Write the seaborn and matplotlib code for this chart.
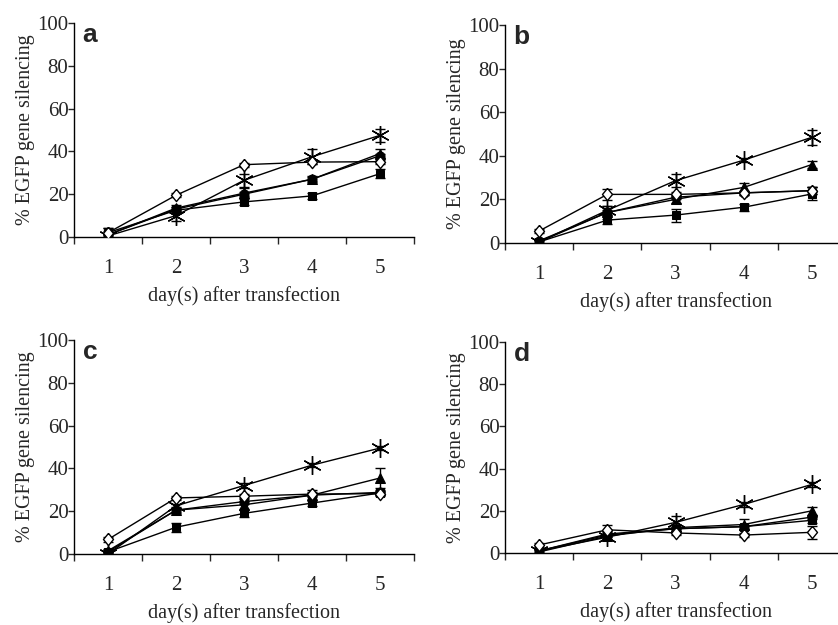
import matplotlib
matplotlib.use("Agg")
import matplotlib.pyplot as plt
import seaborn as sns
import numpy as np

days = [1, 2, 3, 4, 5]
series = ["circle", "square", "triangle", "asterisk", "diamond"]

# panel a
a_vals = {
    "circle":   [1, 13, 20, 27, 38],
    "square":   [2, 12.5, 16.4, 19.2, 29.6],
    "triangle": [1, 13.5, 20.5, 27, 39],
    "asterisk": [0.5, 10, 26.5, 37.5, 47.5],
    "diamond":  [2, 19.5, 33.8, 35, 35.2],
}
a_err = {
    "circle":   [1, 1, 1, 1, 1],
    "square":   [2, 1.5, 1.5, 1.5, 2],
    "triangle": [3, 1.5, 2.5, 1.5, 2],
    "asterisk": [1, 2.5, 3, 3.5, 3],
    "diamond":  [1, 1, 1, 1, 1],
}
# panel b
b_vals = {
    "circle":   [1, 14, 21, 23, 24],
    "square":   [0.5, 10.5, 12.8, 16.4, 22.5],
    "triangle": [0.5, 14, 20, 25.5, 36],
    "asterisk": [0.5, 15, 28.6, 38, 48.5],
    "diamond":  [5.5, 22.3, 22.3, 23, 24],
}
b_err = {
    "circle":   [1, 1, 1, 1, 1.5],
    "square":   [1, 2, 3, 1.5, 3],
    "triangle": [1, 3, 1.5, 2, 1.5],
    "asterisk": [1, 2, 3, 1, 3.5],
    "diamond":  [1, 2.5, 1, 1, 1.5],
}
# panel c
c_vals = {
    "circle":   [1, 20.5, 24.5, 27.5, 28.8],
    "square":   [1, 12.5, 19, 23.8, 28.5],
    "triangle": [1.5, 20.5, 23, 27.5, 35.5],
    "asterisk": [0, 22.5, 32, 41.5, 49.5],
    "diamond":  [6.8, 26.2, 27, 28, 28.2],
}
c_err = {
    "circle":   [1, 1, 1, 1, 1],
    "square":   [1, 2, 1.5, 1.5, 1],
    "triangle": [1, 1.5, 2, 2.5, 4.5],
    "asterisk": [1, 1, 1, 1, 1],
    "diamond":  [1, 1, 1, 1, 1],
}
# panel d
d_vals = {
    "circle":   [1, 8.5, 11.5, 12.5, 17],
    "square":   [1, 9, 11.5, 12.5, 15.5],
    "triangle": [0.5, 8, 12, 13.5, 20],
    "asterisk": [1, 7.5, 14.5, 23, 32.5],
    "diamond":  [3.8, 11, 9.5, 8.5, 9.8],
}
d_err = {
    "circle":   [1, 1, 1, 1, 1],
    "square":   [1, 1.5, 1, 1, 1.5],
    "triangle": [1, 2, 1.5, 2.5, 2],
    "asterisk": [1, 1, 3, 1, 1],
    "diamond":  [1, 2.5, 1, 1, 3],
}
panel_letters = ["a", "b", "c", "d"]
yticks = [0, 20, 40, 60, 80, 100]
xlabel = "day(s) after transfection"
ylabel = "% EGFP gene silencing"

diamond_marker = [(0, 1), (0.82, 0), (0, -1), (-0.82, 0), (0, 1)]
styles = {
    "circle":   dict(marker="o", markerfacecolor="k", ms=6.5),
    "square":   dict(marker="s", markerfacecolor="k", ms=6),
    "triangle": dict(marker="^", markerfacecolor="k", ms=7.5),
    "asterisk": dict(marker=(6, 2, 0), markerfacecolor="none", ms=13.5, markeredgewidth=1.0),
    "diamond":  dict(marker=diamond_marker, markerfacecolor="white", ms=8.8, markeredgewidth=1.0),
}

sns.set_style("ticks")
plt.rcParams["font.family"] = ["Liberation Serif", "DejaVu Serif"]

W, H = 838, 625
fig = plt.figure(figsize=(W / 100, H / 100), dpi=100)

# axes boxes in pixels: left, top(y=100), right, bottom(y=0)
boxes = [(74, 23, 414, 237), (505, 25, 846, 243), (74, 340, 414, 554), (505, 342, 846, 553)]
panels = [(a_vals, a_err), (b_vals, b_err), (c_vals, c_err), (d_vals, d_err)]

for (l, t, r, b), (vals, errs), letter in zip(boxes, panels, panel_letters):
    ax = fig.add_axes([l / W, 1 - b / H, (r - l) / W, (b - t) / H])
    for k, s in enumerate(series):
        ax.errorbar(days, vals[s], yerr=errs[s], fmt="none", ecolor="k",
                    elinewidth=1, capsize=3.5, capthick=1, zorder=2 + k)
        sns.lineplot(x=days, y=vals[s], ax=ax, color="k", lw=1,
                     markeredgecolor="k", zorder=3 + k, **styles[s])
    ax.set_xlim(0.5, 5.5)
    ax.set_ylim(0, 100)
    ax.set_xticks([0.5, 1.5, 2.5, 3.5, 4.5, 5.5])
    ax.set_xticklabels([])
    ax.set_xticks(days, minor=True)
    ax.set_xticklabels([str(d) for d in days], minor=True, fontsize=15)
    ax.tick_params(axis="x", which="minor", length=0, pad=16)
    ax.tick_params(axis="x", which="major", length=5, width=1, direction="out")
    ax.set_yticks(yticks)
    ax.set_yticklabels([str(v) for v in yticks], fontsize=15)
    ax.tick_params(axis="y", length=4, width=1, pad=0)
    for sp in ["top", "right"]:
        ax.spines[sp].set_visible(False)
    for sp in ["left", "bottom"]:
        ax.spines[sp].set_linewidth(1)
        ax.spines[sp].set_color("k")
    ax.set_xlabel(xlabel, fontsize=14.5, labelpad=6)
    ax.set_ylabel(ylabel, fontsize=14.5, labelpad=2)
    ax.text(0.025, 1.0, letter, transform=ax.transAxes, fontsize=19, fontweight="bold",
            family=["Liberation Sans", "DejaVu Sans"], va="top", ha="left")
    ax.patch.set_visible(False)

fig.savefig("out.png", dpi=100)
